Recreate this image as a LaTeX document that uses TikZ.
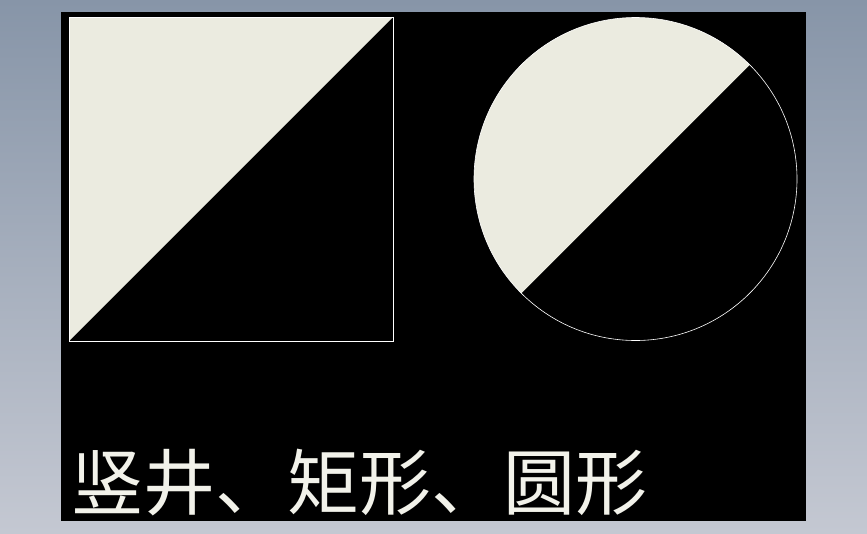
\documentclass[tikz,border=0pt]{standalone}
\usepackage{fontspec}
\newfontfamily\cjk{Noto Sans CJK SC}
\definecolor{bgtop}{RGB}{135,149,168}
\definecolor{bgbot}{RGB}{196,200,210}
\definecolor{beige}{RGB}{235,235,224}
\definecolor{txt}{RGB}{242,242,234}
\tikzset{
  outline/.style={draw=white, line width=0.9pt},
  fillpart/.style={fill=beige},
}
\begin{document}
\begin{tikzpicture}[x=1pt,y=-1pt]
  \useasboundingbox (0,0) rectangle (867,533);
  \shade[top color=bgtop, bottom color=bgbot] (0,0) rectangle (867,533);
  \fill[black] (61,12) rectangle (805.5,520.5);
  % square
  \coordinate (sqTL) at (69,17);
  \coordinate (sqTR) at (393,17);
  \coordinate (sqBR) at (393,341);
  \coordinate (sqBL) at (69,341);
  \fill[fillpart] (sqBL) -- (sqTL) -- (sqTR) -- cycle;
  \draw[outline] (sqTL) rectangle (sqBR);
  % circle
  \coordinate (cc) at (635.5,179);
  \fill[fillpart] (cc) ++(-45:161.5) arc[start angle=-45, end angle=-225, radius=161.5] -- cycle;
  \draw[outline, line width=0.6pt] (cc) circle[radius=161.5];
  % text
  \node[anchor=base west, inner sep=0pt, text=txt, font=\cjk\fontsize{72}{72}\selectfont] (label) at (71,509) {竖井、矩形、圆形};
\end{tikzpicture}
\end{document}
